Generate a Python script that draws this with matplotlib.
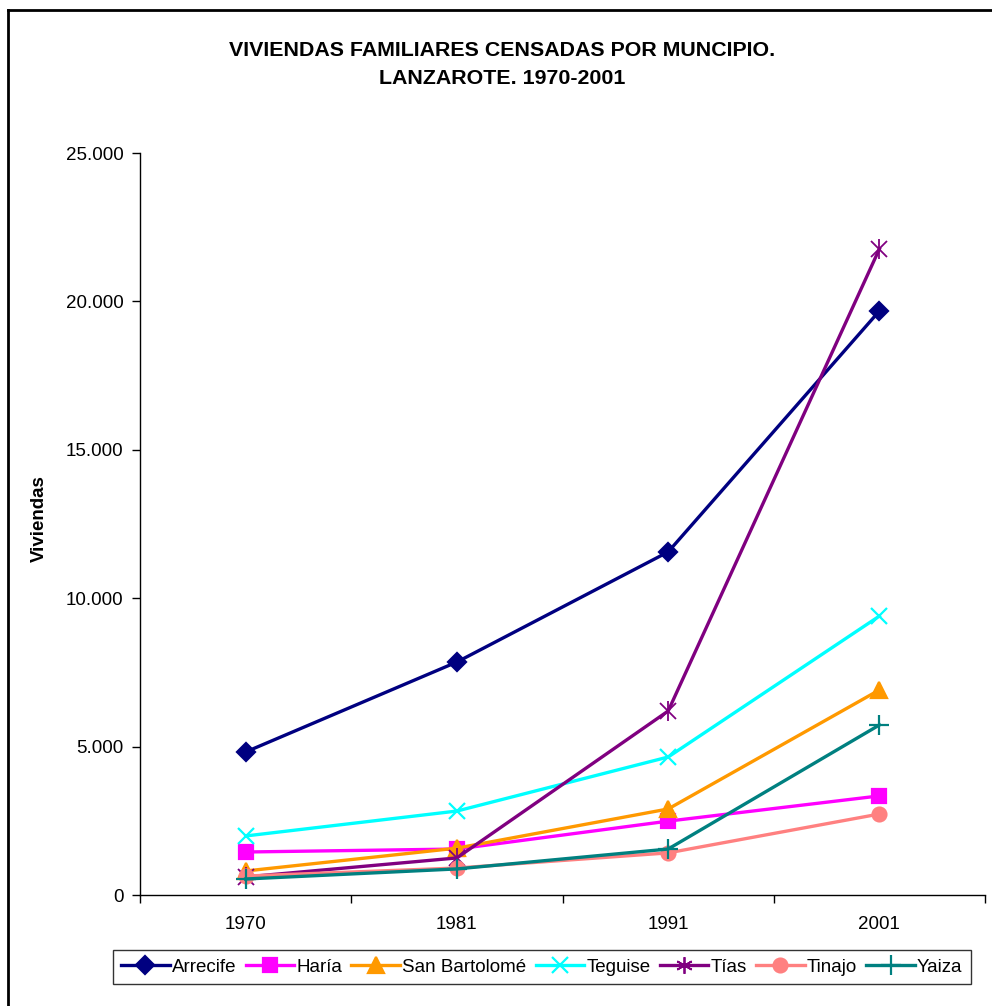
import numpy as np
import matplotlib
matplotlib.use("Agg")
import matplotlib.pyplot as plt
from matplotlib.lines import Line2D

plt.rcParams['font.family'] = ['Liberation Sans', 'DejaVu Sans']

years = ["1970", "1981", "1991", "2001"]
arrecife = [4820, 7850, 11560, 19680]
haria = [1450, 1550, 2490, 3340]
san_bartolome = [810, 1580, 2900, 6910]
teguise = [1990, 2830, 4650, 9400]
tias = [610, 1250, 6200, 21770]
tinajo = [640, 910, 1420, 2730]
yaiza = [540, 880, 1550, 5730]

series = [
    ("Arrecife", arrecife, "#000080", "D", 9),
    ("Haría", haria, "#FF00FF", "s", 10),
    ("San Bartolomé", san_bartolome, "#FF9900", "^", 11),
    ("Teguise", teguise, "#00FFFF", "x", 12),
    ("Tías", tias, "#800080", "x", 12),
    ("Tinajo", tinajo, "#FF8080", "o", 10),
    ("Yaiza", yaiza, "#008080", "+", 14),
]

fig = plt.figure(figsize=(9.92, 10.06), dpi=100)
ax = fig.add_axes([0.1411, 0.1103, 0.8519, 0.7376])

x = np.arange(len(years))
handles = []
for name, vals, col, mk, ms in series:
    if name == "Tías":
        # asterisk: an x with a vertical bar on top
        ax.plot(x, vals, color=col, lw=2.4, marker="x", ms=ms, mew=1.3)
        ax.plot(x, vals, color=col, lw=0, marker="|", ms=ms + 2, mew=1.3)
        h = Line2D([], [], color=col, lw=2.4, marker=(6, 2, 0), ms=ms, mew=1.3)
    else:
        ax.plot(x, vals, color=col, lw=2.4, marker=mk, ms=ms, mew=1.6)
        h = Line2D([], [], color=col, lw=2.4, marker=mk, ms=ms, mew=1.6)
    handles.append((h, name))

ax.set_xlim(-0.5, 3.5)
ax.set_ylim(0, 25000)
ax.set_xticks(x)
ax.set_xticklabels(years)
ax.set_xticks(np.arange(-0.5, 4, 1), minor=True)
ax.tick_params(axis="x", which="major", length=0, pad=15, labelsize=13.5)
ax.tick_params(axis="x", which="minor", length=6, width=1)
ax.set_yticks(np.arange(0, 25001, 5000))
ax.set_yticklabels(["0", "5.000", "10.000", "15.000", "20.000", "25.000"])
ax.tick_params(axis="y", length=6, width=1, labelsize=13.5, pad=6)
for s in ["top", "right"]:
    ax.spines[s].set_visible(False)
for s in ["left", "bottom"]:
    ax.spines[s].set_linewidth(1)

ax.set_ylabel("Viviendas", fontsize=13.5, fontweight="bold")
ax.yaxis.set_label_coords(-0.109, 0.508)

fig.text(0.506, 0.936, "VIVIENDAS FAMILIARES CENSADAS POR MUNCIPIO.\nLANZAROTE. 1970-2001",
         ha="center", va="center", fontsize=15.4, fontweight="bold", linespacing=1.6)

leg = fig.legend([h for h, n in handles], [n for h, n in handles], ncol=7,
                 loc="center", bbox_to_anchor=(0.546, 0.0388), fontsize=13.5,
                 frameon=True, fancybox=False, handlelength=2.6, handletextpad=0.1,
                 columnspacing=0.5, borderpad=0.45)
leg.get_frame().set_edgecolor("black")
leg.get_frame().set_linewidth(1)

# outer chart frame (left and top visible)
fig.add_artist(Line2D([0.008, 0.008], [0.0, 0.9905], color="black", lw=2, transform=fig.transFigure))
fig.add_artist(Line2D([0.008, 1.0], [0.9905, 0.9905], color="black", lw=2, transform=fig.transFigure))

fig.savefig("out.png", dpi=100)
